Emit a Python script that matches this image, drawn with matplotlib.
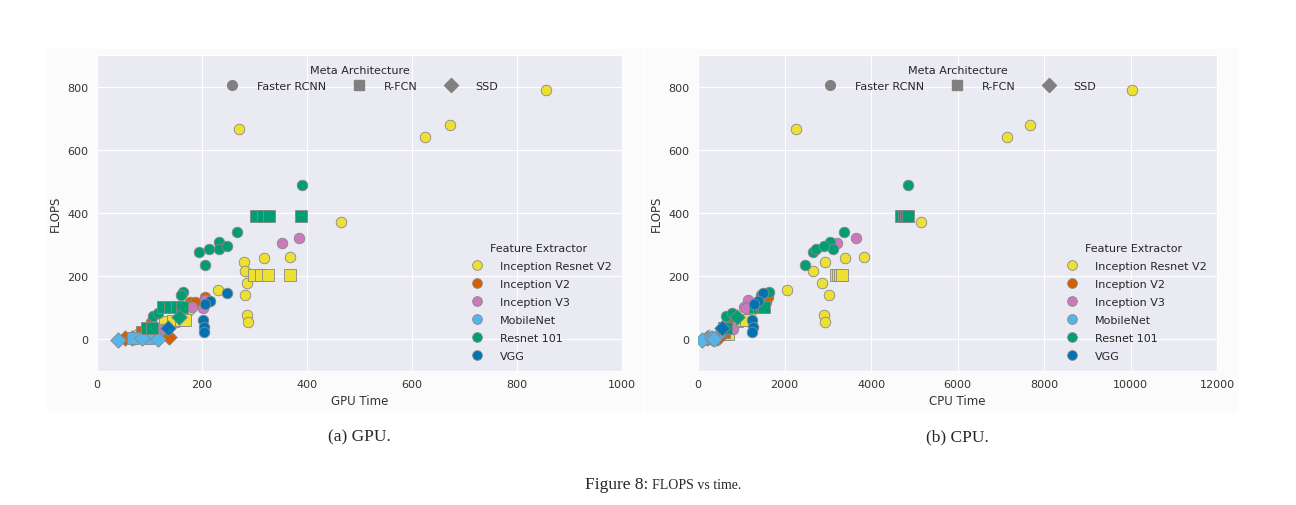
import matplotlib
matplotlib.use("Agg")
import matplotlib.pyplot as plt
from matplotlib.lines import Line2D
from matplotlib.patches import Rectangle
import seaborn as sns

sns.set_style("darkgrid")
plt.rcParams["font.family"] = ["DejaVu Sans"]

EXTRACTORS = ["Inception Resnet V2", "Inception V2", "Inception V3",
              "MobileNet", "Resnet 101", "VGG"]
COLORS = ["#ECE133", "#D55E00", "#CC78BC", "#56B4E9", "#029E73", "#0173B2"]
METAS = ["Faster RCNN", "R-FCN", "SSD"]
MARKERS = {"Faster RCNN": "o", "R-FCN": "s", "SSD": "D"}

# (extractor, meta) -> flops, gpu time, cpu time
flops = {
    ("Inception Resnet V2", "Faster RCNN"): [788, 680, 640, 665, 370, 262, 259, 244, 218, 180, 139, 76, 54, 155, 114, 92],
    ("Inception Resnet V2", "R-FCN"): [205, 205, 205, 205, 54, 58, 60, 63, 16, 16],
    ("Inception Resnet V2", "SSD"): [9],
    ("Inception V2", "Faster RCNN"): [117, 117, 133, 54],
    ("Inception V2", "R-FCN"): [22],
    ("Inception V2", "SSD"): [3, 6, 9],
    ("Inception V3", "Faster RCNN"): [304, 322, 126, 104, 100, 32],
    ("MobileNet", "Faster RCNN"): [20],
    ("MobileNet", "R-FCN"): [3, 6],
    ("MobileNet", "SSD"): [-3, 6, 0],
    ("Resnet 101", "Faster RCNN"): [490, 341, 278, 285, 307, 287, 295, 237, 149, 139, 73, 85],
    ("Resnet 101", "R-FCN"): [389, 389, 389, 389, 101, 101, 101, 104, 35, 35],
    ("Resnet 101", "SSD"): [70],
    ("VGG", "Faster RCNN"): [148, 120, 111, 63, 38, 25],
    ("VGG", "SSD"): [35],
}
gpu_time = {
    ("Inception Resnet V2", "Faster RCNN"): [855, 672, 625, 271, 465, 368, 318, 280, 282, 286, 282, 286, 288, 231, 196, 175],
    ("Inception Resnet V2", "R-FCN"): [300, 312, 325, 368, 130, 145, 160, 168, 97, 114],
    ("Inception Resnet V2", "SSD"): [72],
    ("Inception V2", "Faster RCNN"): [177, 187, 206, 103],
    ("Inception V2", "R-FCN"): [86],
    ("Inception V2", "SSD"): [53, 67, 137],
    ("Inception V3", "Faster RCNN"): [352, 385, 206, 181, 202, 124],
    ("MobileNet", "Faster RCNN"): [110],
    ("MobileNet", "R-FCN"): [69, 97],
    ("MobileNet", "SSD"): [40, 86, 116],
    ("Resnet 101", "Faster RCNN"): [390, 267, 194, 213, 232, 232, 247, 206, 164, 160, 107, 116],
    ("Resnet 101", "R-FCN"): [303, 316, 328, 389, 126, 139, 152, 162, 95, 105],
    ("Resnet 101", "SSD"): [156],
    ("VGG", "Faster RCNN"): [248, 215, 206, 202, 203, 203],
    ("VGG", "SSD"): [135],
}
cpu_time = {
    ("Inception Resnet V2", "Faster RCNN"): [10032, 7669, 7136, 2270, 5144, 3846, 3406, 2942, 2665, 2873, 3035, 2919, 2942, 2062, 1460, 1250],
    ("Inception Resnet V2", "R-FCN"): [3200, 3230, 3280, 3320, 788, 900, 1020, 1100, 600, 700],
    ("Inception Resnet V2", "SSD"): [255],
    ("Inception V2", "Faster RCNN"): [1480, 1560, 1622, 700],
    ("Inception V2", "R-FCN"): [600],
    ("Inception V2", "SSD"): [200, 440, 480],
    ("Inception V3", "Faster RCNN"): [3221, 3661, 1158, 1060, 1120, 800],
    ("MobileNet", "Faster RCNN"): [500],
    ("MobileNet", "R-FCN"): [300, 350],
    ("MobileNet", "SSD"): [93, 324, 380],
    ("Resnet 101", "Faster RCNN"): [4866, 3383, 2665, 2734, 3058, 3128, 2919, 2479, 1645, 1460, 649, 788],
    ("Resnet 101", "R-FCN"): [4703, 4760, 4800, 4843, 1320, 1400, 1480, 1529, 600, 650],
    ("Resnet 101", "SSD"): [904],
    ("VGG", "Faster RCNN"): [1500, 1380, 1300, 1251, 1274, 1251],
    ("VGG", "SSD"): [556],
}

SIZES = {"o": 58, "s": 85, "D": 62}


def draw(ax, times, xlabel, xlim, xticks):
    for ext, col in zip(EXTRACTORS, COLORS):
        for meta in METAS:
            key = (ext, meta)
            if key not in flops:
                continue
            m = MARKERS[meta]
            ax.scatter(times[key], flops[key], s=SIZES[m], marker=m, c=col,
                       edgecolors="#888888", linewidths=0.6, zorder=3)
    ax.set_xlim(*xlim)
    ax.set_ylim(-100, 900)
    ax.set_xticks(xticks)
    ax.set_yticks([0, 200, 400, 600, 800])
    ax.tick_params(labelsize=8, colors="#333333", length=0, pad=6)
    ax.set_xlabel(xlabel, fontsize=8.5, color="#333333", labelpad=3)
    ax.set_ylabel("FLOPS", fontsize=8.5, color="#333333", labelpad=4)

    meta_handles = [Line2D([], [], ls="none", marker=MARKERS[m], color="#808080",
                           markersize=7) for m in METAS]
    leg1 = ax.legend(meta_handles, METAS, title="Meta Architecture", ncol=3,
                     loc="upper center", bbox_to_anchor=(0.5, 1.0), frameon=False,
                     fontsize=8, title_fontsize=8, handletextpad=1.2,
                     columnspacing=2.0)
    ax.add_artist(leg1)
    ext_handles = [Line2D([], [], ls="none", marker="o", markerfacecolor=c,
                          markeredgecolor="#888888", markeredgewidth=0.6,
                          markersize=7) for c in COLORS]
    ax.legend(ext_handles, EXTRACTORS, title="Feature Extractor",
              loc="lower right", bbox_to_anchor=(1.0, 0.0), frameon=False,
              fontsize=8, title_fontsize=8, handletextpad=1.1,
              labelspacing=0.72)


fig = plt.figure(figsize=(12.96, 5.06), dpi=100)

# faint off-white panels behind each subplot, as in the source figure
for x0, w in [(47, 595), (645, 592)]:
    fig.patches.append(Rectangle((x0 / 1296, 1 - 412 / 506), w / 1296, 362 / 506,
                                 transform=fig.transFigure, color="#fbfbfc",
                                 zorder=-1))

ax1 = fig.add_axes([0.0748, 0.2648, 0.4051, 0.6245])
ax2 = fig.add_axes([0.5386, 0.2648, 0.4005, 0.6245])

draw(ax1, gpu_time, "GPU Time", (0, 1000), range(0, 1001, 200))
draw(ax2, cpu_time, "CPU Time", (0, 12000), range(0, 12001, 2000))

serif = ["Liberation Serif", "DejaVu Serif"]
fig.text(0.2775, 0.136, "(a) GPU.", ha="center", va="center", fontsize=12.5, family=serif)
fig.text(0.7389, 0.136, "(b) CPU.", ha="center", va="center", fontsize=12.5, family=serif)
fig.text(0.5, 0.041, "Figure 8:", ha="right", va="center", fontsize=12.5, family=serif)
fig.text(0.503, 0.041, "FLOPS vs time.", ha="left", va="center", fontsize=10, family=serif)

fig.savefig("out.png", dpi=100)
